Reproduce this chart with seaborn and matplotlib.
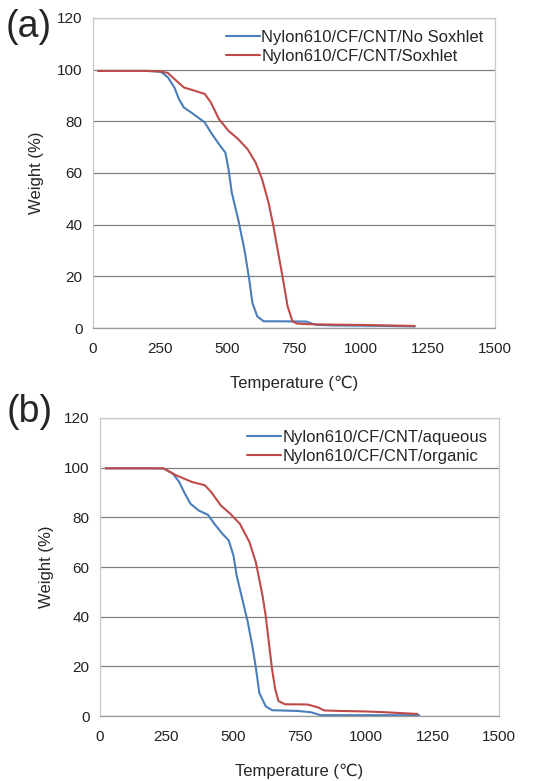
import matplotlib
matplotlib.use("Agg")
import matplotlib.pyplot as plt
import pandas as pd
import seaborn as sns

# TGA curves (temperature in C, weight in %)
temp_a_nosox = [20, 100, 200, 240, 256, 280, 304, 321, 339, 375, 417, 440, 470, 494, 506, 518,
                542, 565, 583, 595, 613, 637, 700, 796, 815, 833, 900, 1000, 1100, 1200]
wt_a_nosox = [99.5, 99.5, 99.5, 99.3, 99.0, 97.0, 93.1, 88.6, 85.4, 82.8, 79.6, 75.7, 71.2, 67.9, 61.4, 52.4,
              42.0, 30.4, 18.8, 9.7, 4.5, 2.6, 2.6, 2.5, 1.8, 1.2, 1.0, 0.9, 0.8, 0.6]

temp_a_sox = [20, 100, 200, 255, 280, 304, 339, 381, 417, 440, 470, 506, 542, 577, 607, 631, 655,
              673, 691, 709, 726, 744, 762, 800, 900, 1000, 1100, 1200]
wt_a_sox = [99.5, 99.5, 99.5, 99.3, 98.7, 96.4, 93.1, 91.8, 90.6, 87.3, 80.9, 76.3, 73.1, 69.2, 64.0, 57.6, 48.5,
            39.5, 29.1, 18.8, 8.4, 2.6, 1.7, 1.5, 1.3, 1.2, 1.0, 0.8]

temp_b_aq = [22, 100, 200, 240, 274, 298, 316, 340, 370, 406, 430, 460, 484, 502, 514, 532, 556,
             575, 587, 599, 623, 647, 743, 792, 830, 900, 1000, 1100, 1200]
wt_b_aq = [99.7, 99.7, 99.7, 99.6, 97.6, 94.2, 90.2, 85.5, 82.8, 81.0, 77.4, 73.4, 70.7, 64.6, 56.5, 48.5, 37.7,
           26.9, 18.8, 9.4, 4.0, 2.4, 2.1, 1.6, 0.4, 0.4, 0.4, 0.4, 0.4]

temp_b_org = [22, 100, 200, 238, 286, 346, 394, 418, 454, 490, 526, 562, 586, 611, 623, 635, 647,
              659, 671, 695, 780, 818, 843, 900, 1000, 1068, 1193]
wt_b_org = [99.7, 99.7, 99.7, 99.7, 96.9, 94.2, 92.9, 90.2, 84.8, 81.4, 77.4, 70.0, 61.9, 48.5, 40.4, 29.6, 18.8,
            10.8, 6.1, 4.8, 4.7, 3.6, 2.3, 2.1, 1.9, 1.6, 0.9]

labels_a = ["Nylon610/CF/CNT/No Soxhlet", "Nylon610/CF/CNT/Soxhlet"]
labels_b = ["Nylon610/CF/CNT/aqueous", "Nylon610/CF/CNT/organic"]
x_ticks = [0, 250, 500, 750, 1000, 1250, 1500]
y_ticks = [0, 20, 40, 60, 80, 100, 120]

sns.set_style("white")
plt.rcParams["font.family"] = ["Liberation Sans", "DejaVu Sans"]

colors = ["#4a7ebb", "#be4b48"]


def make_df(t1, w1, t2, w2, labels):
    d1 = pd.DataFrame({"temp": t1, "weight": w1, "sample": labels[0]})
    d2 = pd.DataFrame({"temp": t2, "weight": w2, "sample": labels[1]})
    return pd.concat([d1, d2], ignore_index=True)


def draw_panel(ax, df, labels, ypad):
    sns.lineplot(data=df, x="temp", y="weight", hue="sample", hue_order=labels,
                 palette=colors, sort=False, estimator=None, linewidth=1.5, ax=ax)
    ax.set_xlim(0, 1500)
    ax.set_ylim(0, 120)
    ax.set_xticks(x_ticks)
    ax.set_yticks(y_ticks)
    ax.yaxis.grid(True, color="#7f7f7f", linewidth=0.9)
    ax.set_axisbelow(True)
    for s in ax.spines.values():
        s.set_color("#c8c8c8")
        s.set_linewidth(0.9)
    ax.spines["bottom"].set_color("#9a9a9a")
    ax.tick_params(axis="both", direction="out", length=4, color="#9a9a9a",
                   labelsize=11, labelcolor="#222222")
    ax.tick_params(axis="x", pad=6)
    ax.set_xlabel("Temperature (\u2103)", fontsize=12, labelpad=14)
    ax.set_ylabel("Weight (%)", fontsize=12, labelpad=ypad)
    leg = ax.legend(loc="upper right", bbox_to_anchor=(1.0, 1.0), frameon=False,
                    fontsize=12, handlelength=2.0, handletextpad=0.1,
                    labelspacing=0.25, borderaxespad=0.3)
    for line in leg.get_lines():
        line.set_linewidth(1.5)


fig = plt.figure(figsize=(5.46, 7.81), dpi=100)
ax_a = fig.add_axes([0.170, 0.580, 0.737, 0.397])
ax_b = fig.add_axes([0.183, 0.083, 0.731, 0.382])

draw_panel(ax_a, make_df(temp_a_nosox, wt_a_nosox, temp_a_sox, wt_a_sox, labels_a), labels_a, 9)
draw_panel(ax_b, make_df(temp_b_aq, wt_b_aq, temp_b_org, wt_b_org, labels_b), labels_b, 7)

fig.text(0.052, 0.965, "(a)", fontsize=27, ha="center", va="center")
fig.text(0.055, 0.472, "(b)", fontsize=27, ha="center", va="center")

fig.savefig("out.png", dpi=100)
